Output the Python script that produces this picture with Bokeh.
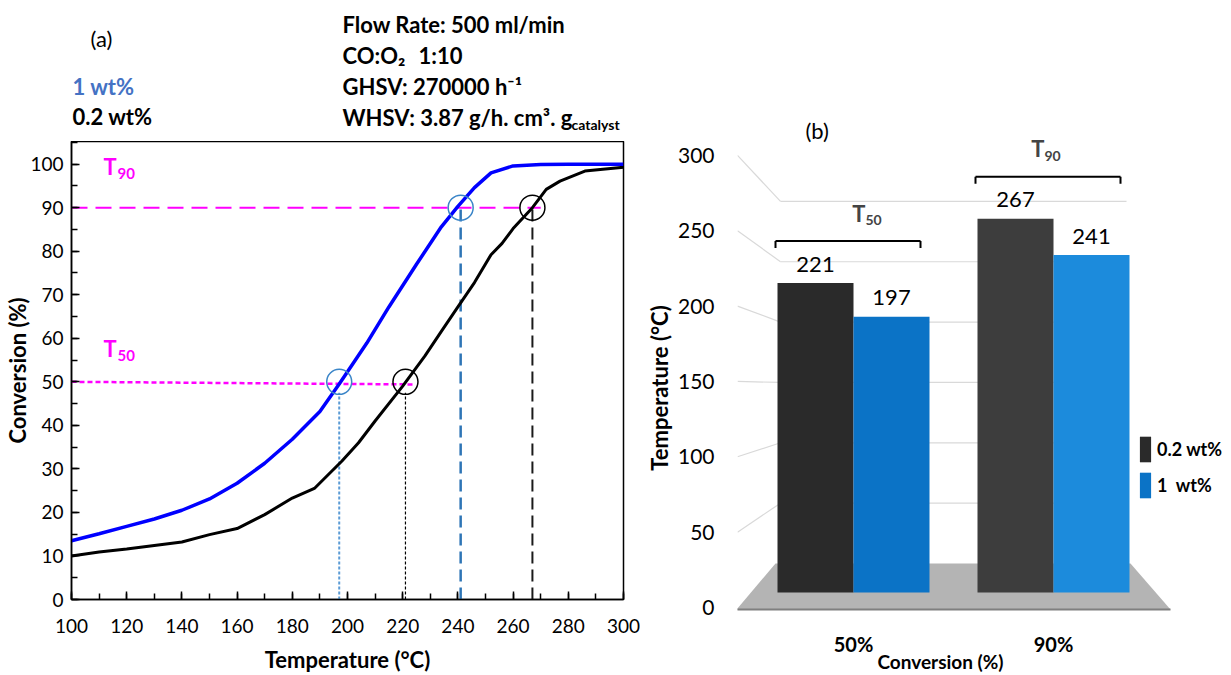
from bokeh.plotting import figure
from bokeh.layouts import row, column
from bokeh.models import (Range1d, ColumnDataSource, Label, LabelSet, Legend, LegendItem,
                          SingleIntervalTicker, FixedTicker)
from bokeh.core.properties import value
from bokeh.embed import file_html
from bokeh.resources import INLINE

FONT = "Lato"

# ---------------- data ----------------
# panel (a): light-off curves
temp_1wt = [100, 110, 120, 130, 140, 150, 160, 170, 180, 190, 197, 200, 207, 215, 225,
            234, 240, 246, 252, 260, 270, 280, 300]
conv_1wt = [13.5, 15.1, 16.8, 18.5, 20.5, 23.1, 26.7, 31.3, 36.8, 43.2, 49.5, 52.3, 58.9,
            67.2, 77.0, 85.6, 90.3, 94.6, 98.0, 99.6, 99.9, 100.0, 100.0]
temp_02wt = [100, 110, 120, 130, 140, 150, 160, 170, 180, 188, 198, 204, 210, 220, 228,
             234, 240, 246, 252, 256, 260, 267, 272, 277, 286, 300]
conv_02wt = [10.0, 10.9, 11.6, 12.4, 13.2, 14.9, 16.3, 19.5, 23.3, 25.5, 31.8, 36.0, 41.0,
             49.0, 55.9, 61.6, 67.2, 72.8, 79.2, 81.8, 85.2, 90.0, 94.2, 96.1, 98.4, 99.3]

# panel (b): T50 / T90
conversion_levels = [50, 90]
conversion_labels = ["50%", "90%"]
t_subscripts = ["50", "90"]
t_02wt = [221, 267]
t_1wt = [197, 241]
series_labels = ["0.2 wt%", "1  wt%"]

y_ticks_b = [0, 50, 100, 150, 200, 250, 300]

MAGENTA = "#ff00ff"


def txt(p, fl, fb, px, py, s, size=22, bold=True, color="black", align="left"):
    """Label placed by page pixel, relative to a frame whose left/bottom are fl/fb."""
    p.add_layout(Label(x=px - fl, y=fb - py, x_units="screen", y_units="screen", text=s,
                       text_font=FONT, text_font_size=f"{size}px",
                       text_font_style="bold" if bold else "normal",
                       text_color=color, text_align=align, text_baseline="middle"))


A_L, A_R, A_B = 71, 17, 67
HEAD_H = 141

# ======================= panel (a) header =======================
ha = figure(width=640, height=HEAD_H, x_range=Range1d(0, 1), y_range=Range1d(0, 1),
            output_backend="svg", toolbar_location=None, x_axis_type=None, y_axis_type=None,
            min_border_left=A_L, min_border_right=A_R, min_border_top=0, min_border_bottom=0)
ha.grid.visible = False
ha.outline_line_color = None
hb = HEAD_H

txt(ha, A_L, hb, 90, 38, "(a)", bold=False)
txt(ha, A_L, hb, 72, 86, "1 wt%", color="#4472c4")
txt(ha, A_L, hb, 72, 116, "0.2 wt%")
txt(ha, A_L, hb, 342, 24, "Flow Rate: 500 ml/min")
txt(ha, A_L, hb, 342, 55, "CO:O₂")
txt(ha, A_L, hb, 418, 55, "1:10")
txt(ha, A_L, hb, 342, 86, "GHSV: 270000 h⁻¹")
txt(ha, A_L, hb, 342, 117, "WHSV: 3.87 g/h. cm³. g")
txt(ha, A_L, hb, 571, 124, "catalyst", size=14)

# ======================= panel (a) =======================
A_H = 675 - HEAD_H
a_fb = 675 - A_B  # frame bottom px (page)

pa = figure(width=640, height=A_H, x_range=Range1d(100, 300), y_range=Range1d(0, 105.2),
            output_backend="svg", toolbar_location=None,
            min_border_left=A_L, min_border_right=A_R, min_border_top=0, min_border_bottom=A_B)
pa.grid.visible = False
pa.outline_line_color = "black"
pa.outline_line_width = 1.5
pa.xaxis.ticker = SingleIntervalTicker(interval=20, num_minor_ticks=2)
pa.yaxis.ticker = SingleIntervalTicker(interval=10, num_minor_ticks=2)
for ax in (pa.xaxis[0], pa.yaxis[0]):
    ax.axis_line_color = "black"
    ax.axis_line_width = 1.5
    ax.major_tick_in = 8
    ax.major_tick_out = 0
    ax.minor_tick_in = 6
    ax.minor_tick_out = 0
    ax.major_tick_line_width = 1.5
    ax.minor_tick_line_width = 1.5
    ax.major_label_text_font = FONT
    ax.major_label_text_font_size = "19px"
    ax.major_label_text_color = "black"
    ax.axis_label_text_font = FONT
    ax.axis_label_text_font_style = "bold"
    ax.axis_label_text_font_size = "22px"
    ax.axis_label_text_color = "black"
pa.xaxis.axis_label = "Temperature (°C)"
pa.yaxis.axis_label = "Conversion (%)"
pa.xaxis.major_label_standoff = 19
pa.xaxis.axis_label_standoff = 10
pa.yaxis.major_label_standoff = 8
pa.yaxis.axis_label_standoff = -4

lvl50, lvl90 = conversion_levels
# guide lines
pa.segment(x0=[100], y0=[lvl90], x1=[max(t_02wt[1], t_1wt[1]) + 3], y1=[lvl90],
           line_color=MAGENTA, line_width=2, line_dash="16 8")
pa.segment(x0=[100], y0=[lvl50], x1=[max(t_02wt[0], t_1wt[0]) + 3], y1=[lvl50 - 0.6],
           line_color=MAGENTA, line_width=2.5, line_dash="5 3")
pa.segment(x0=[t_1wt[0]], y0=[0], x1=[t_1wt[0]], y1=[lvl50 - 2.5],
           line_color="#5b9bd5", line_width=2, line_dash="3 2")
pa.segment(x0=[t_02wt[0]], y0=[0], x1=[t_02wt[0]], y1=[lvl50 - 2.5],
           line_color="black", line_width=1.2, line_dash="3 2")
pa.segment(x0=[t_1wt[1]], y0=[0], x1=[t_1wt[1]], y1=[lvl90],
           line_color="#2e75b6", line_width=2.5, line_dash="12 6")
pa.segment(x0=[t_02wt[1]], y0=[0], x1=[t_02wt[1]], y1=[lvl90],
           line_color="#1a1a1a", line_width=2, line_dash="12 6")

pa.line(temp_02wt, conv_02wt, line_color="black", line_width=3)
pa.line(temp_1wt, conv_1wt, line_color="#0000ff", line_width=3.5)

pa.scatter(x=t_1wt, y=conversion_levels, size=25, fill_color=None,
           line_color="#3a85c8", line_width=1.5)
pa.scatter(x=t_02wt, y=conversion_levels, size=25, fill_color=None,
           line_color="black", line_width=1.5)

# T90 / T50 tags
txt(pa, A_L, a_fb, 103, 175, "T", size=22, color=MAGENTA)
txt(pa, A_L, a_fb, 117, 182, t_subscripts[1], size=15, color=MAGENTA)
txt(pa, A_L, a_fb, 103, 357, "T", size=22, color=MAGENTA)
txt(pa, A_L, a_fb, 117, 364, t_subscripts[0], size=15, color=MAGENTA)

# ======================= panel (b) =======================
B_W = 591
B_L, B_R, B_T, B_B = 97, 0, 100, 0
B_X0 = 640
b_fl = B_X0 + B_L          # frame left (page px)
b_fb = 675 - B_B           # frame bottom (page px)
px_per_x = 200.0           # px per category unit
front_zero, front_scale = 607.0, 1.507   # front axis: px of 0, px per unit
bar_zero, bar_scale = 592.0, 1.40        # bar plane
wall_zero, wall_scale = 563.0, 1.207     # back wall

y_front = Range1d(-(b_fb - front_zero) / front_scale, (front_zero - B_T) / front_scale)
y_bars = Range1d(-(b_fb - bar_zero) / bar_scale, (bar_zero - B_T) / bar_scale)
x_start = -0.08
x_rng = Range1d(x_start, x_start + (B_W - B_L - B_R) / px_per_x)

pb = figure(width=B_W, height=675, x_range=x_rng, y_range=y_front,
            output_backend="svg", toolbar_location=None, x_axis_location=None,
            min_border_left=B_L, min_border_right=B_R, min_border_top=B_T, min_border_bottom=B_B)
pb.extra_y_ranges = {"bars": y_bars}
pb.grid.visible = False
pb.outline_line_color = None

yax = pb.yaxis[0]
yax.ticker = FixedTicker(ticks=y_ticks_b)
yax.axis_line_color = None
yax.major_tick_line_color = None
yax.minor_tick_line_color = None
yax.major_label_text_font = FONT
yax.major_label_text_font_size = "21px"
yax.major_label_text_color = "black"
yax.major_label_standoff = 17
yax.axis_label = "Temperature (°C)"
yax.axis_label_text_font = FONT
yax.axis_label_text_font_style = "bold"
yax.axis_label_text_font_size = "22px"
yax.axis_label_text_color = "black"
yax.axis_label_standoff = 2


def wall_in_front(v):
    return (front_zero - (wall_zero - wall_scale * v)) / front_scale


x_front_l, x_wall_l, x_wall_r = -0.08, 0.135, 1.865
gv = [v for v in y_ticks_b if v > 0]
pb.segment(x0=[x_front_l] * len(gv), y0=gv, x1=[x_wall_l] * len(gv),
           y1=[wall_in_front(v) for v in gv], line_color="#d9d9d9", line_width=1.2)
pb.segment(x0=[x_wall_l] * len(gv), y0=[wall_in_front(v) for v in gv],
           x1=[x_wall_r] * len(gv), y1=[wall_in_front(v) for v in gv],
           line_color="#d9d9d9", line_width=1.2)

# floor
floor_front = (front_zero - 609) / front_scale
floor_back = wall_in_front(0)
pb.patch(x=[-0.085, 2.085, 1.885, 0.11], y=[floor_front, floor_front, floor_back, floor_back],
         fill_color="#b4b4b4", line_color=None)
pb.segment(x0=[-0.085], y0=[floor_front], x1=[2.085], y1=[floor_front],
           line_color="#7f7f7f", line_width=2)

centers = [i + 0.5 for i in range(len(conversion_labels))]
half = 0.19
src = ColumnDataSource(dict(
    x02=[c - half for c in centers], x1=[c + half for c in centers],
    t02=t_02wt, t1=t_1wt,
    t02_txt=[str(v) for v in t_02wt], t1_txt=[str(v) for v in t_1wt],
    c02=["#2a2a2a", "#3d3d3d"], c1=["#0b73c6", "#1c8bdc"],
))
r02 = pb.vbar(x="x02", top="t02", bottom=0, width=0.38, source=src, y_range_name="bars",
              fill_color="c02", line_color=None)
r1 = pb.vbar(x="x1", top="t1", bottom=0, width=0.38, source=src, y_range_name="bars",
             fill_color="c1", line_color=None)

for col, tcol in (("x02", "t02"), ("x1", "t1")):
    pb.add_layout(LabelSet(x=col, y=tcol, text=tcol + "_txt", source=src,
                           y_range_name="bars", y_offset=19, text_align="center",
                           text_baseline="middle", text_font=value(FONT),
                           text_font_size="22px", text_color="black"))

# category labels and axis title (drawn below the floor)
cat_y = (front_zero - 643) / front_scale
pb.text(x=centers, y=[cat_y] * len(centers), text=conversion_labels,
        text_font=value(FONT), text_font_style="bold", text_font_size="20px",
        text_align="center", text_baseline="middle", text_color="black")
txt(pb, b_fl, b_fb, 940, 661, "Conversion (%)", size=19, align="center")

# T50 / T90 brackets
t_label_dx = [12, -9]   # px nudges of the bracket titles
for c, a, b, sub, dx in zip(centers, t_02wt, t_1wt, t_subscripts, t_label_dx):
    by = max(a, b) + 30
    pb.segment(x0=[c - 0.39], y0=[by], x1=[c + 0.335], y1=[by], y_range_name="bars",
               line_color="black", line_width=2)
    pb.segment(x0=[c - 0.39, c + 0.335], y0=[by, by], x1=[c - 0.39, c + 0.335],
               y1=[by - 5, by - 5], y_range_name="bars", line_color="black", line_width=2)
    pb.add_layout(Label(x=c, y=by + 20, y_range_name="bars", x_offset=dx, text="T",
                        text_font=FONT, text_font_size="22px", text_font_style="bold",
                        text_align="right", text_baseline="middle"))
    pb.add_layout(Label(x=c, y=by + 20, y_range_name="bars", x_offset=dx, y_offset=-7,
                        text=sub, text_font=FONT, text_font_size="14px",
                        text_font_style="bold", text_align="left", text_baseline="middle"))

txt(pb, b_fl, b_fb, 805, 130, "(b)", bold=False)

legend = Legend(items=[LegendItem(label=series_labels[0], renderers=[r02]),
                       LegendItem(label=series_labels[1], renderers=[r1])],
                location=(1138 - b_fl, b_fb - 501), orientation="vertical",
                glyph_width=14, glyph_height=32, label_height=32, label_standoff=5,
                spacing=4, padding=0, margin=0,
                label_text_font=FONT, label_text_font_style="bold",
                label_text_font_size="18px", label_text_color="black",
                border_line_color=None, background_fill_alpha=0)
pb.add_layout(legend)

layout = row(column(ha, pa), pb)
open("out.html", "w").write(file_html(layout, INLINE))
